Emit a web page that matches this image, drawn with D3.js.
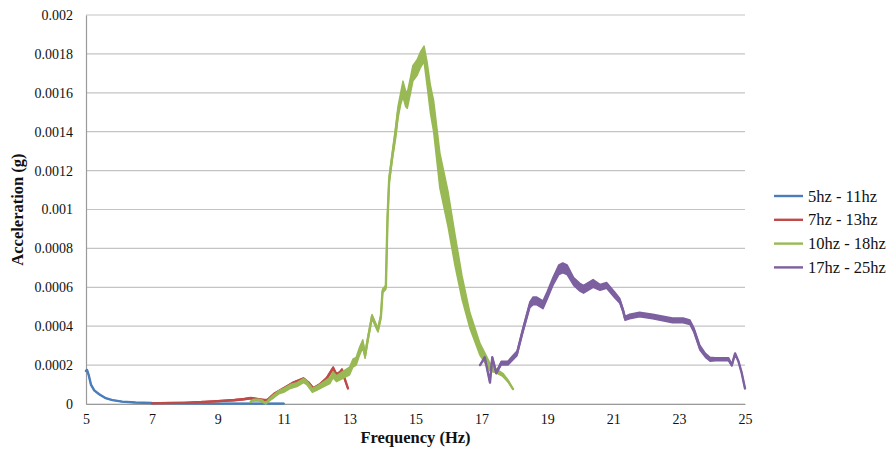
<!DOCTYPE html>
<html>
<head>
<meta charset="utf-8">
<script src="https://cdn.jsdelivr.net/npm/d3@7"></script>
<style>
  html, body { margin: 0; padding: 0; background: #fff; }
  svg { display: block; }
  svg text { font-family: "Liberation Serif", "Times New Roman", Times, serif !important; }
</style>
</head>
<body>
<svg id="chart" width="892" height="449"></svg>
<script>
// Sweep responses: frequency (Hz), mean acceleration (g) and the half-height
// of the fast oscillation around it (g), one set per sweep range.
const seriesNames = ["5hz - 11hz", "7hz - 13hz", "10hz - 18hz", "17hz - 25hz"];
const seriesColors = ["#4a7ebb", "#be4b48", "#98b954", "#7d60a0"];

const blueFreq = [5.0, 5.03, 5.08, 5.15, 5.25, 5.4, 5.6, 5.8, 6.1, 6.5, 7.0, 8.0, 9.0, 10.0, 11.0];
const blueAcc = [0.00017, 0.000175, 0.00015, 0.0001, 0.00007, 0.00005, 0.00003, 0.00002, 0.000012, 0.000008, 0.000005, 0.000003, 0.000002, 0.000002, 0.000002];
const blueSpread = [0, 0, 0, 0, 0, 0, 0, 0, 0, 0, 0, 0, 0, 0, 0];

const redFreq = [7.0, 7.5, 8.0, 8.5, 9.0, 9.5, 9.8, 10.0, 10.2, 10.4, 10.5, 10.7, 11.0, 11.3, 11.6, 11.75, 11.9, 12.1, 12.3, 12.5, 12.6, 12.7, 12.77, 12.85, 12.95];
const redAcc = [0.000003, 0.000005, 0.000007, 0.00001, 0.000015, 0.00002, 0.000025, 0.00003, 0.000025, 0.00002, 0.00002, 0.00005, 0.00008, 0.00011, 0.00013, 0.00011, 0.00008, 0.0001, 0.00013, 0.000185, 0.00015, 0.00016, 0.000175, 0.00013, 0.00008];
const redSpread = [0, 0, 0, 0, 0.000002, 0.000003, 0.000003, 0.000003, 0.000003, 0.000003, 0.000003, 0.000004, 0.000004, 0.000004, 0.000004, 0.000004, 0.000004, 0.000005, 0.000006, 0.000006, 0.000006, 0.000006, 0.000006, 0.000004, 0];

const greenFreq = [10.0, 10.1, 10.25, 10.35, 10.45, 10.55, 10.7, 10.85, 11.0, 11.2, 11.4, 11.6, 11.7, 11.87, 12.0, 12.2, 12.4, 12.5, 12.6, 12.8, 13.0, 13.1, 13.2, 13.3, 13.4, 13.47, 13.55, 13.68, 13.78, 13.86, 13.95, 14.0, 14.1, 14.15, 14.2, 14.3, 14.4, 14.47, 14.55, 14.62, 14.7, 14.75, 14.85, 14.92, 15.05, 15.15, 15.26, 15.35, 15.45, 15.55, 15.74, 15.99, 16.2, 16.41, 16.65, 16.96, 17.26, 17.45, 17.65, 17.8, 17.96];
const greenAcc = [0.000012, 0.00002, 0.00002, 0.000015, 0.000002, 0.00002, 0.00004, 0.00006, 0.00007, 0.00009, 0.0001, 0.00012, 0.00011, 0.00007, 0.00008, 0.0001, 0.00012, 0.00015, 0.00013, 0.00015, 0.00017, 0.00021, 0.00022, 0.00027, 0.00031, 0.00025, 0.00033, 0.00045, 0.00041, 0.00038, 0.00045, 0.00058, 0.0006, 0.00095, 0.00115, 0.00128, 0.0014, 0.0015, 0.00157, 0.00162, 0.00157, 0.00156, 0.00164, 0.0017, 0.00173, 0.00177, 0.0018, 0.0017, 0.00157, 0.00148, 0.0012, 0.001, 0.00079, 0.0006, 0.00043, 0.00028, 0.00019, 0.00017, 0.00015, 0.00012, 0.000077];
const greenSpread = [0, 0.000005, 0.000005, 0.000005, 0, 0.000005, 0.000008, 0.000008, 0.00001, 0.00001, 0.00001, 0.00001, 0.00001, 0.00001, 0.00001, 0.000012, 0.000015, 0.000015, 0.000015, 0.000018, 0.00002, 0.00002, 0.00002, 0.00002, 0.00002, 0.000015, 0.000012, 0.00001, 0.00001, 0.00001, 0.00001, 0.00001, 0.00001, 0.00002, 0.00002, 0.00002, 0.00003, 0.00003, 0.00003, 0.00004, 0.00004, 0.00004, 0.00004, 0.00004, 0.00004, 0.00004, 0.00004, 0.00006, 0.00007, 0.00008, 0.00009, 0.00009, 0.00008, 0.00006, 0.00004, 0.00003, 0.00002, 0.00001, 0.000008, 0.000005, 0];

const purpleFreq = [16.96, 17.1, 17.26, 17.33, 17.45, 17.6, 17.8, 18.08, 18.26, 18.47, 18.57, 18.68, 18.87, 19.0, 19.17, 19.35, 19.47, 19.6, 19.8, 19.99, 20.1, 20.39, 20.6, 20.8, 21.05, 21.2, 21.3, 21.36, 21.5, 21.8, 22.2, 22.8, 23.12, 23.33, 23.45, 23.63, 23.8, 23.94, 24.1, 24.3, 24.5, 24.6, 24.7, 24.8, 24.9, 25.0];
const purpleAcc = [0.0002, 0.00024, 0.00011, 0.00024, 0.00016, 0.00021, 0.00021, 0.00026, 0.00038, 0.00051, 0.00053, 0.00053, 0.00051, 0.00056, 0.00063, 0.00069, 0.0007, 0.00069, 0.00063, 0.0006, 0.00059, 0.00062, 0.0006, 0.00061, 0.00056, 0.00053, 0.00048, 0.00044, 0.00045, 0.00046, 0.00045, 0.00043, 0.00043, 0.00042, 0.00038, 0.00029, 0.00025, 0.00023, 0.00023, 0.00023, 0.00023, 0.0002, 0.00026, 0.00022, 0.00016, 0.00008];
const purpleSpread = [0, 0, 0, 0, 0.000005, 0.00001, 0.00001, 0.000012, 0.000012, 0.000015, 0.00002, 0.00002, 0.00002, 0.00002, 0.00002, 0.000025, 0.000025, 0.000025, 0.00002, 0.00002, 0.00002, 0.00002, 0.000015, 0.000015, 0.000015, 0.000012, 0.00001, 0.00001, 0.000012, 0.000012, 0.000012, 0.000012, 0.000012, 0.000012, 0.000012, 0.000012, 0.00001, 0.00001, 0.000008, 0.000008, 0.000008, 0.000005, 0, 0, 0, 0];

const xTicks = [5, 7, 9, 11, 13, 15, 17, 19, 21, 23, 25];
const yTicks = [0, 0.0002, 0.0004, 0.0006, 0.0008, 0.001, 0.0012, 0.0014, 0.0016, 0.0018, 0.002];
const yTickLabels = ["0", "0.0002", "0.0004", "0.0006", "0.0008", "0.001", "0.0012", "0.0014", "0.0016", "0.0018", "0.002"];

const series = [
  { freq: blueFreq, acc: blueAcc, spread: blueSpread },
  { freq: redFreq, acc: redAcc, spread: redSpread },
  { freq: greenFreq, acc: greenAcc, spread: greenSpread },
  { freq: purpleFreq, acc: purpleAcc, spread: purpleSpread }
].map((s, i) => ({
  name: seriesNames[i],
  color: seriesColors[i],
  points: s.freq.map((f, j) => ({ f, v: s.acc[j], d: s.spread[j] }))
}));

const serif = '"Liberation Serif", "Times New Roman", Times, serif';
const svg = d3.select("#chart");
const plot = { left: 86, right: 745, top: 15, bottom: 404 };

const x = d3.scaleLinear().domain([5, 25]).range([plot.left, plot.right]);
const y = d3.scaleLinear().domain([0, 0.002]).range([plot.bottom, plot.top]);

// horizontal gridlines
svg.append("g")
  .selectAll("line")
  .data(yTicks)
  .join("line")
  .attr("x1", plot.left).attr("x2", plot.right)
  .attr("y1", d => y(d)).attr("y2", d => y(d))
  .attr("stroke", "#c4c4c4").attr("stroke-width", 1.2);

// y axis
const yAxis = svg.append("g")
  .attr("transform", `translate(${plot.left},0)`)
  .call(d3.axisLeft(y).tickValues(yTicks).tickSize(0).tickPadding(13)
    .tickFormat((d, i) => yTickLabels[i]));
yAxis.attr("font-family", null);
yAxis.select(".domain").attr("stroke", "#9a9a9a").attr("stroke-width", 1.2);
yAxis.selectAll("text").attr("font-size", 14).attr("fill", "#111").style("font-family", serif);

// x axis
const xAxis = svg.append("g")
  .attr("transform", `translate(0,${plot.bottom})`)
  .call(d3.axisBottom(x).tickValues(xTicks).tickSize(0).tickPadding(10)
    .tickFormat(d3.format("d")));
xAxis.attr("font-family", null);
xAxis.select(".domain").attr("stroke", "#9a9a9a").attr("stroke-width", 1.2);
xAxis.selectAll("text").attr("font-size", 14).attr("fill", "#111").style("font-family", serif);

// each sweep: a band covering the oscillation, outlined so it is never thinner than a line
const band = d3.area()
  .x(p => x(p.f))
  .y0(p => y(Math.max(0, p.v - p.d)))
  .y1(p => y(p.v + p.d))
  .curve(d3.curveLinear);

const line = d3.line().x(p => x(p.f)).y(p => y(p.v));

const gSeries = svg.append("g");
series.forEach(s => {
  gSeries.append("path")
    .attr("d", band(s.points))
    .attr("fill", s.color)
    .attr("stroke", s.color)
    .attr("stroke-width", 1.5)
    .attr("stroke-linejoin", "round");
  gSeries.append("path")
    .attr("d", line(s.points))
    .attr("fill", "none")
    .attr("stroke", s.color)
    .attr("stroke-width", 2.4)
    .attr("stroke-linejoin", "round")
    .attr("stroke-linecap", "round");
});

// axis titles
svg.append("text")
  .attr("x", (plot.left + plot.right) / 2)
  .attr("y", 443)
  .attr("text-anchor", "middle")
  .attr("font-size", 16.5).attr("font-weight", "bold").attr("fill", "#111")
  .style("font-family", serif)
  .text("Frequency (Hz)");

svg.append("text")
  .attr("transform", `translate(23,${(plot.top + plot.bottom) / 2}) rotate(-90)`)
  .attr("text-anchor", "middle")
  .attr("font-size", 16.5).attr("font-weight", "bold").attr("fill", "#111")
  .style("font-family", serif)
  .text("Acceleration (g)");

// legend
const legend = svg.append("g").attr("transform", "translate(774,196)");
const rows = legend.selectAll("g")
  .data(series)
  .join("g")
  .attr("transform", (d, i) => `translate(0,${i * 23.8})`);
rows.append("line")
  .attr("x1", 0).attr("x2", 29).attr("y1", 0).attr("y2", 0)
  .attr("stroke", d => d.color).attr("stroke-width", 2.4);
rows.append("text")
  .attr("x", 34).attr("y", 5.5)
  .attr("font-size", 16.5).attr("fill", "#111")
  .style("font-family", serif)
  .text(d => d.name);
</script>
</body>
</html>
